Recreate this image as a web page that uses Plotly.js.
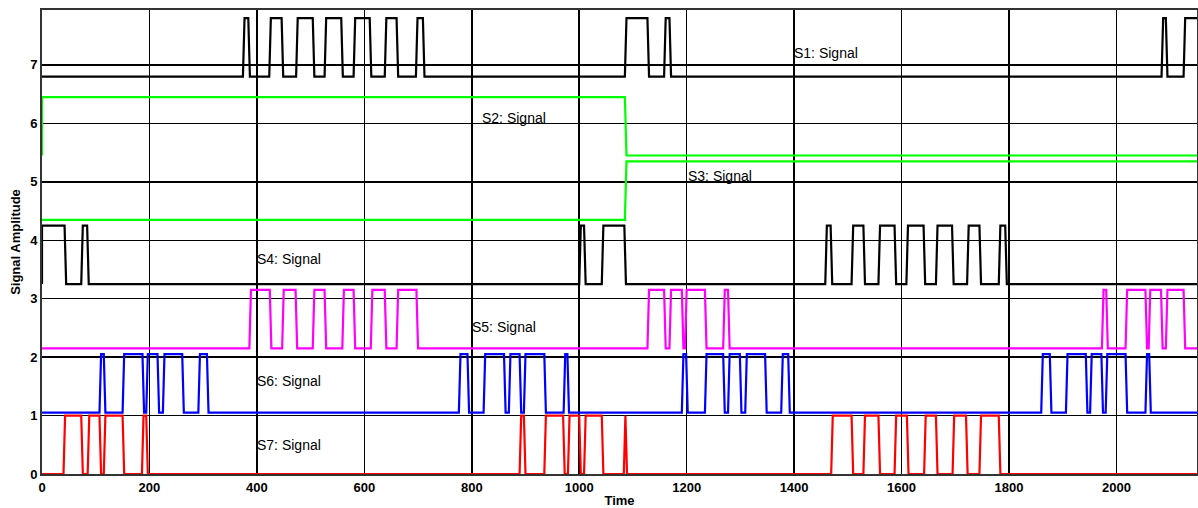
<!DOCTYPE html>
<html>
<head>
<meta charset="utf-8">
<script src="https://cdn.plot.ly/plotly-3.0.1.min.js"></script>
<style>
  html, body { margin: 0; padding: 0; background: #ffffff; }
  #chart { width: 1198px; height: 508px; }
</style>
</head>
<body>
<div id="chart"></div>
<script>
// ---- data ----
const timeEnd = 2150;
const xTicks = [0, 200, 400, 600, 800, 1000, 1200, 1400, 1600, 1800, 2000];
const yTicks = [0, 1, 2, 3, 4, 5, 6, 7];

const names   = ["S1: Signal", "S2: Signal", "S3: Signal", "S4: Signal", "S5: Signal", "S6: Signal", "S7: Signal"];
const offsets = [6.8, 5.45, 4.35, 3.25, 2.15, 1.05, 0];

// times where each signal toggles (starting low)
const s1Edges = [374, 384, 423, 446, 473, 504, 526, 557, 580, 610, 638, 660, 696, 709,
                 1085, 1127, 1158, 1168,
                 2084, 2092, 2125];
const s2Edges = [0, 1085];
const s3Edges = [1085];
const s4Edges = [0, 42, 73, 84,
                 1000, 1009, 1042, 1084,
                 1458, 1468, 1507, 1529, 1557, 1587, 1609, 1641, 1664, 1694, 1722, 1745, 1781, 1793];
const s5Edges = [386, 424, 447, 472, 504, 526, 559, 580, 612, 638, 660, 697,
                 1127, 1158, 1168, 1191, 1197, 1234, 1268, 1277,
                 1973, 1981, 2017, 2054, 2060, 2083, 2092, 2125];
const s6Edges = [107, 115, 150, 187, 194, 215, 225, 261, 291, 307,
                 776, 792, 822, 860, 869, 889, 897, 935, 971, 978,
                 1191, 1199, 1234, 1268, 1277, 1299, 1309, 1346, 1376, 1389,
                 1860, 1876, 1906, 1943, 1951, 1972, 1980, 2017, 2054, 2061];
const s7Edges = [40, 73, 85, 107, 115, 150, 186, 194,
                 889, 897, 935, 970, 979, 1000, 1009, 1042, 1083, 1086,
                 1469, 1507, 1529, 1557, 1587, 1610, 1642, 1664, 1695, 1720, 1745, 1781];

const allEdges = [s1Edges, s2Edges, s3Edges, s4Edges, s5Edges, s6Edges, s7Edges];
const colors = ["#000000", "#00ff00", "#00ff00", "#000000", "#ff00ff", "#0000ff", "#ff0000"];

// label positions (time, amplitude)
const labelX = [1396, 816, 1198, 397, 797, 397, 397];
const labelY = [7.2, 6.1, 5.1, 3.68, 2.52, 1.6, 0.5];

// ---- build step waveforms ----
const ramp = 3;
function steps(edges, base) {
  const xs = [0], ys = [base];
  let state = 0;
  edges.forEach(t => {
    xs.push(t); ys.push(base + state);
    state = 1 - state;
    xs.push(t > 0 ? t + ramp : t); ys.push(base + state);
  });
  xs.push(timeEnd); ys.push(base + state);
  return {xs, ys};
}

const traces = allEdges.map((e, i) => {
  const s = steps(e, offsets[i]);
  return {
    x: s.xs, y: s.ys, type: "scatter", mode: "lines", name: names[i],
    line: {color: colors[i], width: 2.2},
    hoverinfo: "skip", cliponaxis: false
  };
});

const annotations = names.map((n, i) => ({
  x: labelX[i], y: labelY[i], xref: "x", yref: "y", text: n,
  showarrow: false, xanchor: "left", yanchor: "middle",
  font: {family: "Liberation Sans, Arial, sans-serif", size: 14, color: "#000"}
}));

const layout = {
  width: 1198, height: 508,
  margin: {l: 42, r: 1, t: 10, b: 34, pad: 0},
  paper_bgcolor: "#ffffff", plot_bgcolor: "#ffffff",
  showlegend: false,
  font: {family: "Liberation Sans, Arial, sans-serif", color: "#000"},
  xaxis: {
    range: [0, timeEnd], tickmode: "array", tickvals: xTicks, ticktext: xTicks.map(String),
    showgrid: true, gridcolor: "#000000", gridwidth: 1.5, layer: "below traces",
    zeroline: false, showline: true, mirror: true, linecolor: "#333333", linewidth: 2,
    ticks: "", tickfont: {size: 13, family: "Liberation Sans, Arial, sans-serif", weight: "bold"},
    title: {text: "<b>Time</b>", font: {size: 13}, standoff: 4}
  },
  yaxis: {
    range: [0, 7.94], tickmode: "array", tickvals: yTicks, ticktext: yTicks.map(String),
    showgrid: true, gridcolor: "#000000", gridwidth: 1.5, layer: "below traces",
    zeroline: false, showline: true, mirror: true, linecolor: "#333333", linewidth: 2,
    ticks: "", tickfont: {size: 13, family: "Liberation Sans, Arial, sans-serif", weight: "bold"},
    title: {text: "<b>Signal Amplitude</b>", font: {size: 13}, standoff: 7}
  },
  annotations: annotations
};

Plotly.newPlot("chart", traces, layout, {staticPlot: true, displayModeBar: false});
</script>
</body>
</html>
